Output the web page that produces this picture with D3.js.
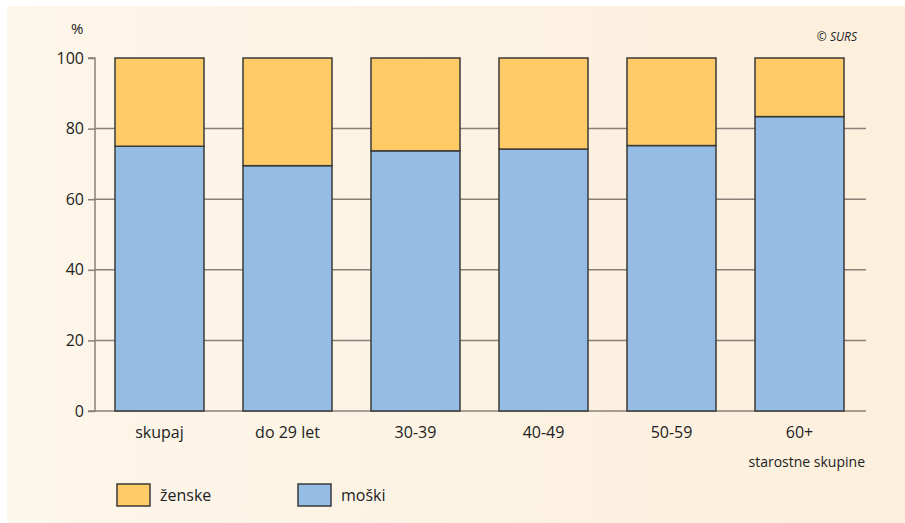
<!DOCTYPE html>
<html><head><meta charset="utf-8">
<script src="https://cdn.jsdelivr.net/npm/d3@7/dist/d3.min.js"></script>
<style>body{margin:0;background:#fff;}svg{display:block;}</style>
</head><body>
<script>
const categories = ["skupaj", "do 29 let", "30-39", "40-49", "50-59", "60+"];
const moski = [75.0, 69.5, 73.7, 74.2, 75.2, 83.4];
const zenske = moski.map(v => 100 - v);
const yTicks = [0, 20, 40, 60, 80, 100];
const seriesNames = ["ženske", "moški"];
const colors = {"ženske": "#fecb67", "moški": "#94bce4"};

const W = 905, H = 523;
const svg = d3.select("body").append("svg").attr("width", W).attr("height", H)
  .style("font-family", "'Open Sans', 'Noto Sans', sans-serif");

const defs = svg.append("defs");
const grad = defs.append("linearGradient").attr("id", "bg").attr("x1", 0).attr("x2", 1).attr("y1", 0).attr("y2", 0);
grad.append("stop").attr("offset", "0%").attr("stop-color", "#fdf6ea");
grad.append("stop").attr("offset", "100%").attr("stop-color", "#fcefdc");
svg.append("rect").attr("x", 7).attr("y", 6).attr("width", W - 7).attr("height", H - 6).attr("fill", "url(#bg)");

const x0 = 95, x1 = 866;
const x = d3.scaleBand().domain(categories).range([95.5, 863.5]).paddingInner(0.3047).paddingOuter(0.1523);
const y = d3.scaleLinear().domain([0, 100]).range([411, 58]);

// grid lines
svg.append("g").selectAll("line").data(yTicks.filter(t => t < 100)).join("line")
  .attr("x1", x0).attr("x2", x1).attr("y1", d => y(d)).attr("y2", d => y(d))
  .attr("stroke", "#8a8078").attr("stroke-width", 1.5);

// axis
const axis = d3.axisLeft(y).tickValues(yTicks).tickSize(7).tickPadding(4);
const ag = svg.append("g").attr("transform", `translate(${x0},0)`).call(axis);
ag.select(".domain").attr("stroke", "#8a8078").attr("stroke-width", 1.5).attr("d", `M-7,${y(100)}H0V${y(0)}H-7`);
ag.selectAll(".tick line").attr("stroke", "#8a8078").attr("stroke-width", 1.5);
ag.selectAll(".tick text").attr("font-size", 16).attr("fill", "#222").style("font-family", "'Open Sans', sans-serif");

// bars
const rows = categories.map((c, i) => ({cat: c, "moški": moski[i], "ženske": zenske[i]}));
const stack = d3.stack().keys(["moški", "ženske"])(rows);
svg.append("g").selectAll("g").data(stack).join("g").attr("fill", d => colors[d.key])
  .selectAll("rect").data(d => d).join("rect")
  .attr("x", d => x(d.data.cat)).attr("width", x.bandwidth())
  .attr("y", d => y(d[1])).attr("height", d => y(d[0]) - y(d[1]))
  .attr("stroke", "#3a3a3a").attr("stroke-width", 1.5);

// category labels
svg.append("g").selectAll("text").data(categories).join("text")
  .attr("x", d => x(d) + x.bandwidth() / 2).attr("y", 438)
  .attr("text-anchor", "middle").attr("font-size", 16).attr("fill", "#222").text(d => d);

svg.append("text").attr("x", 865).attr("y", 467).attr("text-anchor", "end")
  .attr("font-size", 14).attr("fill", "#222").text("starostne skupine");
svg.append("text").attr("x", 71).attr("y", 34).attr("font-size", 15).attr("fill", "#222").text("%");
svg.append("text").attr("x", 857).attr("y", 41).attr("text-anchor", "end")
  .attr("font-size", 12).attr("font-style", "italic").attr("fill", "#222").text("© SURS");

// legend
const legX = [117, 298];
const lg = svg.append("g").selectAll("g").data(seriesNames).join("g")
  .attr("transform", (d, i) => `translate(${legX[i]},484)`);
lg.append("rect").attr("width", 33).attr("height", 22).attr("fill", d => colors[d])
  .attr("stroke", "#3a3a3a").attr("stroke-width", 1.5);
lg.append("text").attr("x", 43).attr("y", 17).attr("font-size", 16).attr("fill", "#222").text(d => d);
</script>
</body></html>
